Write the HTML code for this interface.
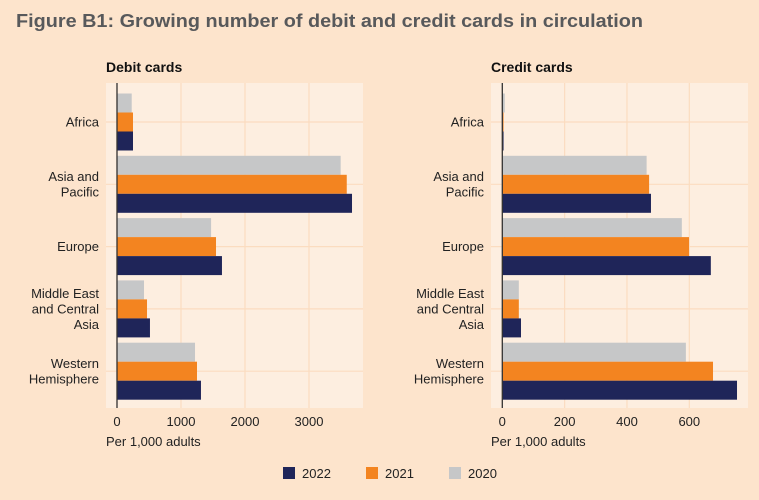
<!DOCTYPE html>
<html><head><meta charset="utf-8"><style>
body{margin:0;background:#fde4cc;}
svg{display:block;font-family:"Liberation Sans",sans-serif;}
</style></head><body>
<svg id="c" width="759" height="500" viewBox="0 0 759 500">
<rect width="759" height="500" fill="#fde4cc"/>
<text x="16" y="27" font-size="18" font-weight="bold" fill="#58595b" textLength="627" lengthAdjust="spacingAndGlyphs">Figure B1: Growing number of debit and credit cards in circulation</text>
<g id="legend"></g>
</svg>
<script>
const categories=["Africa","Asia and|Pacific","Europe","Middle East|and Central|Asia","Western|Hemisphere"];
const years=["2022","2021","2020"];
const debit2022=[250,3672,1640,515,1312];
const debit2021=[250,3590,1547,469,1250];
const debit2020=[230,3495,1470,422,1219];
const credit2022=[4,477,669,60,753];
const credit2021=[4,471,599,53,676];
const credit2020=[8,463,576,53,589];
const debitTicks=[0,1000,2000,3000];
const creditTicks=[0,200,400,600];
const colors={"2022":"#1f2559","2021":"#f38420","2020":"#c6c7c8"};
const NS="http://www.w3.org/2000/svg";
const svg=document.getElementById('c');
function mk(t,a,p){const e=document.createElementNS(NS,t);for(const k in a)e.setAttribute(k,a[k]);(p||svg).appendChild(e);return e;}
function panel(name,title,px,zero,right,ppu,ticks,s2022,s2021,s2020,labelX){
  const g=mk('g',{});
  
  
  const x=v=>zero+v*ppu;
  const top=83,bottom=408,pitch=62.3,c0=122;
  const y=i=>c0+i*pitch;
  const bg=mk('rect',{x:px,y:top,width:right-px,height:bottom-top,fill:'#fdeee0'},g);
  
  
  ticks.forEach(t=>{mk('line',{x1:x(t),x2:x(t),y1:top,y2:bottom,stroke:'#fbdcc0','stroke-width':1.2},g);});
  categories.forEach((c,i)=>{mk('line',{x1:px,x2:right,y1:y(i),y2:y(i),stroke:'#fbdcc0','stroke-width':1.2},g);});
  const tt=mk('text',{x:px,y:72,'font-size':14,'font-weight':'bold',fill:'#111'},g);tt.textContent=title;
  
  
  const series=[["2020",s2020,-28.5],["2021",s2021,-9.5],["2022",s2022,9.5]];
  categories.forEach((c,i)=>{
    series.forEach(([yr,arr,off])=>{
      const r=mk('rect',{x:x(0),y:y(i)+off,width:Math.max(0,x(arr[i])-x(0)),height:19,fill:colors[yr]},g);
      
      
    });
    const lines=c.split('|');
    const lt=mk('text',{x:labelX,'text-anchor':'end','font-size':13,fill:'#222'},g);
    
    
    lines.forEach((l,j)=>{const ts=mk('tspan',{x:labelX,y:y(i)+4.5+(j-(lines.length-1)/2)*15.5},lt);ts.textContent=l;});
  });
  mk('line',{x1:x(0),x2:x(0),y1:top,y2:bottom,stroke:'#333','stroke-width':1.3},g);
  ticks.forEach(t=>{const tx=mk('text',{x:x(t),y:426,'font-size':13,'text-anchor':'middle',fill:'#222'},g);tx.textContent=t;
    
    });
  const at=mk('text',{x:px,y:446,'font-size':13,fill:'#222'},g);at.textContent='Per 1,000 adults';
  
  
}
panel('debit-cards','Debit cards',106,117,363,0.064,debitTicks,debit2022,debit2021,debit2020,99);
panel('credit-cards','Credit cards',491,502.3,748,0.3117,creditTicks,credit2022,credit2021,credit2020,484);
const lg=document.getElementById('legend');
years.forEach((yr,i)=>{
  const lx=283+i*83;
  const r=mk('rect',{x:lx,y:467,width:12,height:12,fill:colors[yr]},lg);
  
  
  const t=mk('text',{x:lx+19,y:478,'font-size':13,fill:'#222'},lg);t.textContent=yr;
  
  
});
</script>
</body></html>
